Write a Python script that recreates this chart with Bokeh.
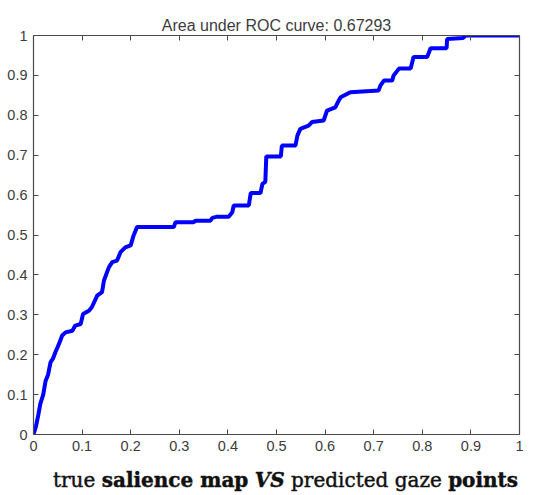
from bokeh.plotting import figure
from bokeh.models import Range1d, FixedTicker, LinearAxis, Div
from bokeh.layouts import column
from bokeh.embed import file_html
from bokeh.resources import INLINE

# ROC curve (false positive rate, true positive rate)
fpr = [0.0, 0.005, 0.010, 0.014, 0.020, 0.025, 0.030, 0.035, 0.040, 0.045,
       0.050, 0.055, 0.059, 0.066, 0.080, 0.086, 0.097, 0.102, 0.114, 0.120,
       0.131, 0.141, 0.145, 0.155, 0.162, 0.172, 0.179, 0.189, 0.200, 0.206,
       0.213, 0.289, 0.292, 0.330, 0.333, 0.364, 0.368, 0.378, 0.402, 0.409,
       0.412, 0.443, 0.447, 0.467, 0.471, 0.477, 0.479, 0.509, 0.511, 0.539,
       0.543, 0.549, 0.566, 0.573, 0.597, 0.604, 0.621, 0.628, 0.632, 0.652,
       0.710, 0.714, 0.721, 0.738, 0.741, 0.752, 0.776, 0.782, 0.810, 0.817,
       0.850, 0.851, 0.884, 0.889, 1.0]
tpr = [0.0, 0.020, 0.050, 0.077, 0.100, 0.135, 0.150, 0.181, 0.190, 0.206,
       0.220, 0.235, 0.248, 0.256, 0.260, 0.273, 0.277, 0.302, 0.310, 0.319,
       0.348, 0.357, 0.386, 0.419, 0.432, 0.436, 0.457, 0.469, 0.474, 0.499,
       0.520, 0.520, 0.532, 0.532, 0.536, 0.536, 0.543, 0.546, 0.546, 0.557,
       0.574, 0.574, 0.605, 0.605, 0.628, 0.633, 0.697, 0.697, 0.724, 0.724,
       0.749, 0.766, 0.774, 0.783, 0.787, 0.812, 0.820, 0.837, 0.845, 0.858,
       0.862, 0.875, 0.887, 0.887, 0.900, 0.917, 0.917, 0.946, 0.946, 0.968,
       0.968, 0.991, 0.994, 1.000, 1.000]

ticks = [0, 0.1, 0.2, 0.3, 0.4, 0.5, 0.6, 0.7, 0.8, 0.9, 1]
tick_labels = ["0", "0.1", "0.2", "0.3", "0.4", "0.5", "0.6", "0.7", "0.8", "0.9", "1"]
title_text = "Area under ROC curve: 0.67293"

AXIS_COLOR = "#4a4a4a"
TEXT_COLOR = "#3c3c3c"

p = figure(width=544, height=462, output_backend="svg", toolbar_location=None,
           x_range=Range1d(0, 1), y_range=Range1d(0, 1),
           min_border_left=33, min_border_right=25, min_border_top=35,
           min_border_bottom=28, x_axis_location=None, y_axis_location=None)
p.grid.visible = False
p.outline_line_color = None
p.background_fill_color = "white"
p.border_fill_color = "white"

p.title.text = title_text
p.title.align = "center"
p.title.text_font = "Liberation Sans"
p.title.text_font_size = "16px"
p.title.text_font_style = "normal"
p.title.text_color = TEXT_COLOR
p.title.standoff = 3

overrides = {t: l for t, l in zip(ticks, tick_labels)}

def make_axis(show_labels):
    ax = LinearAxis(ticker=FixedTicker(ticks=ticks))
    ax.major_label_overrides = overrides
    ax.axis_line_color = AXIS_COLOR
    ax.axis_line_width = 1.2
    ax.major_tick_line_color = AXIS_COLOR
    ax.major_tick_in = 5
    ax.major_tick_out = 0
    ax.minor_tick_line_color = None
    if show_labels:
        ax.major_label_text_font = "Liberation Sans"
        ax.major_label_text_font_size = "14.5px"
        ax.major_label_text_color = TEXT_COLOR
        ax.major_label_standoff = 6
    else:
        ax.major_label_text_font_size = "1px"
        ax.major_label_text_color = None
        ax.major_label_standoff = 0
    return ax

p.add_layout(make_axis(True), "below")
p.add_layout(make_axis(True), "left")
p.add_layout(make_axis(False), "above")
p.add_layout(make_axis(False), "right")

p.line(fpr, tpr, line_color="#0000ff", line_width=4)

caption = Div(
    text=('<div style="padding-top:1px; font-family:\'DejaVu Serif\'; '
          'font-size:20px; color:#111; white-space:nowrap; line-height:24px; '
          '-webkit-text-stroke:0.45px #111;">'
          '<span style="font-weight:normal">true</span> '
          '<span style="font-weight:bold">salience map</span> '
          '<span style="font-weight:bold; font-style:italic">VS</span> '
          '<span style="font-weight:normal">predicted gaze</span> '
          '<span style="font-weight:bold">points</span></div>'),
    width=544, height=33, styles={"padding-left": "48px"})

layout = column(p, caption, spacing=0)
open("out.html", "w").write(file_html(layout, INLINE))
